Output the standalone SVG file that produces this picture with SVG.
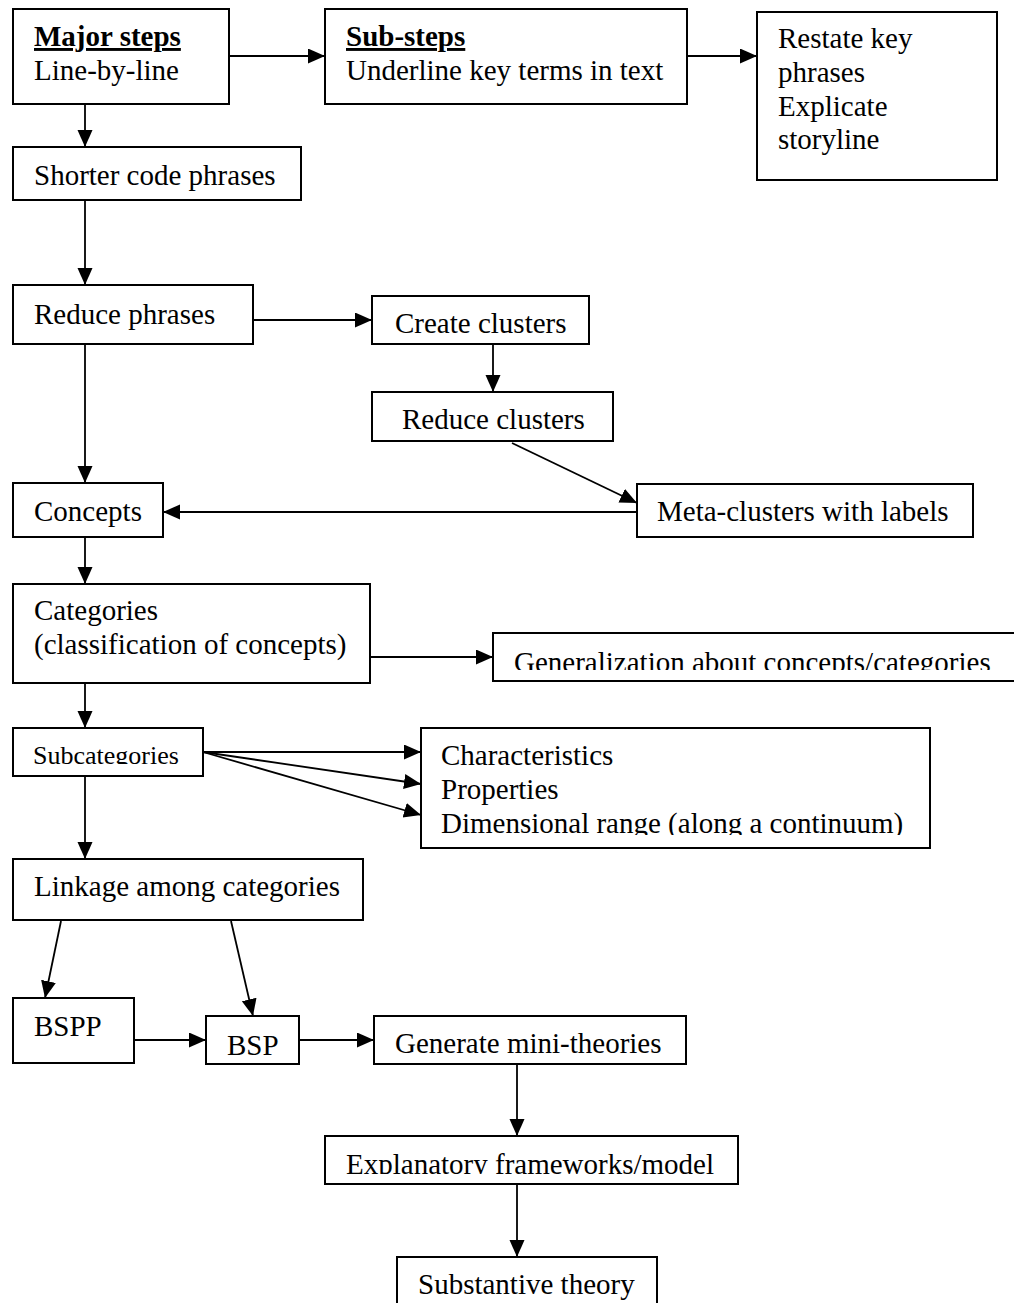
<svg xmlns="http://www.w3.org/2000/svg" width="1014" height="1303" viewBox="0 0 1014 1303">
  <style>
    .box { fill: #ffffff; stroke: #000000; stroke-width: 2; }
    .lbl { font-family: 'Liberation Serif', 'DejaVu Serif', serif; font-size: 29px; fill: #000000; }
    .small { font-size: 26px; }
    .head { font-weight: bold; text-decoration: underline; }
    .edge { fill: none; stroke: #000000; stroke-width: 1.8; marker-end: url(#arrow); }
  </style>
  <defs>
    <marker id="arrow" markerUnits="userSpaceOnUse" markerWidth="19" markerHeight="17" refX="17" refY="7.5" orient="auto">
      <path d="M0,0 L17,7.5 L0,15 Z" fill="#000000"/>
    </marker>
    <!-- text frames that cut off descenders -->
    <clipPath id="clipGen"><rect x="493" y="633" width="530" height="37"/></clipPath>
    <clipPath id="clipSub"><rect x="13" y="728" width="190" height="36"/></clipPath>
    <clipPath id="clipChar"><rect x="421" y="728" width="509" height="107"/></clipPath>
    <clipPath id="clipExpl"><rect x="325" y="1136" width="413" height="38"/></clipPath>
  </defs>
  <rect x="0" y="0" width="1014" height="1303" fill="#ffffff"/>

  <g id="connectors">
    <line class="edge" x1="229" y1="56" x2="325" y2="56"/>
    <line class="edge" x1="687" y1="56" x2="757" y2="56"/>
    <line class="edge" x1="85" y1="104" x2="85" y2="147"/>
    <line class="edge" x1="85" y1="200" x2="85" y2="285"/>
    <line class="edge" x1="253" y1="320" x2="372" y2="320"/>
    <line class="edge" x1="493" y1="344" x2="493" y2="392"/>
    <line class="edge" x1="512" y1="443" x2="637" y2="503"/>
    <line class="edge" x1="637" y1="512" x2="163" y2="512"/>
    <line class="edge" x1="85" y1="344" x2="85" y2="483"/>
    <line class="edge" x1="85" y1="537" x2="85" y2="584"/>
    <line class="edge" x1="370" y1="657" x2="493" y2="657"/>
    <line class="edge" x1="85" y1="683" x2="85" y2="728"/>
    <line class="edge" x1="203" y1="752" x2="421" y2="752"/>
    <line class="edge" x1="203" y1="752" x2="421" y2="784"/>
    <line class="edge" x1="203" y1="752" x2="421" y2="815"/>
    <line class="edge" x1="85" y1="776" x2="85" y2="859"/>
    <line class="edge" x1="61" y1="921" x2="45" y2="998"/>
    <line class="edge" x1="231" y1="921" x2="253" y2="1016"/>
    <line class="edge" x1="134" y1="1040" x2="206" y2="1040"/>
    <line class="edge" x1="299" y1="1040" x2="374" y2="1040"/>
    <line class="edge" x1="517" y1="1064" x2="517" y2="1136"/>
    <line class="edge" x1="517" y1="1184" x2="517" y2="1257"/>
  </g>

  <g id="major-steps">
    <rect class="box" x="13" y="9" width="216" height="95"/>
    <text class="lbl head" x="34" y="46">Major steps</text>
    <text class="lbl" x="34" y="80">Line-by-line</text>
  </g>
  <g id="sub-steps">
    <rect class="box" x="325" y="9" width="362" height="95"/>
    <text class="lbl head" x="346" y="46">Sub-steps</text>
    <text class="lbl" x="346" y="80">Underline key terms in text</text>
  </g>
  <g id="restate">
    <rect class="box" x="757" y="12" width="240" height="168"/>
    <text class="lbl" x="778" y="48">Restate key</text>
    <text class="lbl" x="778" y="82">phrases</text>
    <text class="lbl" x="778" y="116">Explicate</text>
    <text class="lbl" x="778" y="149">storyline</text>
  </g>
  <g id="shorter-code">
    <rect class="box" x="13" y="147" width="288" height="53"/>
    <text class="lbl" x="34" y="185">Shorter code phrases</text>
  </g>
  <g id="reduce-phrases">
    <rect class="box" x="13" y="285" width="240" height="59"/>
    <text class="lbl" x="34" y="324">Reduce phrases</text>
  </g>
  <g id="create-clusters">
    <rect class="box" x="372" y="296" width="217" height="48"/>
    <text class="lbl" x="395" y="333">Create clusters</text>
  </g>
  <g id="reduce-clusters">
    <rect class="box" x="372" y="392" width="241" height="49"/>
    <text class="lbl" x="402" y="429">Reduce clusters</text>
  </g>
  <g id="meta-clusters">
    <rect class="box" x="637" y="484" width="336" height="53"/>
    <text class="lbl" x="657" y="521">Meta-clusters with labels</text>
  </g>
  <g id="concepts">
    <rect class="box" x="13" y="483" width="150" height="54"/>
    <text class="lbl" x="34" y="521">Concepts</text>
  </g>
  <g id="categories">
    <rect class="box" x="13" y="584" width="357" height="99"/>
    <text class="lbl" x="34" y="620">Categories</text>
    <text class="lbl" x="34" y="654">(classification of concepts)</text>
  </g>
  <g id="generalization">
    <rect class="box" x="493" y="633" width="530" height="48"/>
    <text class="lbl" x="514" y="672" clip-path="url(#clipGen)">Generalization about concepts/categories</text>
  </g>
  <g id="subcategories">
    <rect class="box" x="13" y="728" width="190" height="48"/>
    <text class="lbl small" x="33" y="764" clip-path="url(#clipSub)">Subcategories</text>
  </g>
  <g id="characteristics">
    <rect class="box" x="421" y="728" width="509" height="120"/>
    <text class="lbl" x="441" y="765">Characteristics</text>
    <text class="lbl" x="441" y="799">Properties</text>
    <text class="lbl" x="441" y="833" clip-path="url(#clipChar)">Dimensional range (along a continuum)</text>
  </g>
  <g id="linkage">
    <rect class="box" x="13" y="859" width="350" height="61"/>
    <text class="lbl" x="34" y="896">Linkage among categories</text>
  </g>
  <g id="bspp">
    <rect class="box" x="13" y="998" width="121" height="65"/>
    <text class="lbl" x="34" y="1036">BSPP</text>
  </g>
  <g id="bsp">
    <rect class="box" x="206" y="1016" width="93" height="48"/>
    <text class="lbl" x="227" y="1055">BSP</text>
  </g>
  <g id="mini-theories">
    <rect class="box" x="374" y="1016" width="312" height="48"/>
    <text class="lbl" x="395" y="1053">Generate mini-theories</text>
  </g>
  <g id="frameworks">
    <rect class="box" x="325" y="1136" width="413" height="48"/>
    <text class="lbl" x="346" y="1174" clip-path="url(#clipExpl)">Explanatory frameworks/model</text>
  </g>
  <g id="substantive">
    <rect class="box" x="397" y="1257" width="260" height="60"/>
    <text class="lbl" x="418" y="1294">Substantive theory</text>
  </g>
</svg>
